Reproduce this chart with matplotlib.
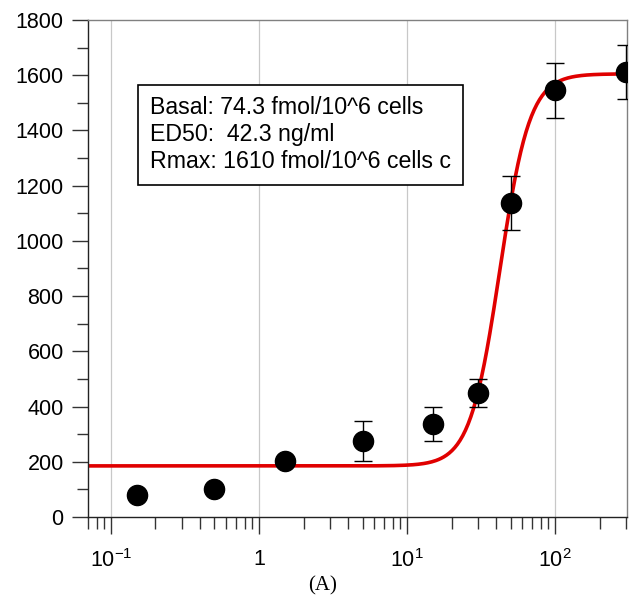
import matplotlib
matplotlib.use("Agg")
import matplotlib.pyplot as plt
import numpy as np
from matplotlib.ticker import FixedLocator, MultipleLocator, LogLocator, NullFormatter

# measured points (dose in ng/ml, response in fmol/10^6 cells)
dose = [0.15, 0.5, 1.5, 5, 15, 30, 50, 100, 300]
resp = [78, 101, 203, 276, 337, 450, 1138, 1545, 1613]
err = [12, 9, 9, 72, 63, 50, 97, 100, 98]

# 4-parameter logistic fit drawn as the red curve
fit_bottom = 185
fit_top = 1605
fit_ed50 = 42.3
fit_slope = 4.3

xticks = [0.1, 1, 10, 100]
xticklabels = ["$10^{-1}$", "1", "$10^{1}$", "$10^{2}$"]

plt.rcParams["font.family"] = ["Liberation Sans", "DejaVu Sans"]
plt.rcParams["mathtext.fontset"] = "custom"
plt.rcParams["mathtext.rm"] = "Liberation Sans"
plt.rcParams["mathtext.it"] = "Liberation Sans"

fig = plt.figure(figsize=(6.32, 6.01), dpi=100)
ax = fig.add_axes([0.1392, 0.1398, 0.8528, 0.8269])

xx = np.logspace(np.log10(0.07), np.log10(300), 400)
yy = fit_bottom + (fit_top - fit_bottom) / (1 + (fit_ed50 / xx) ** fit_slope)
ax.plot(xx, yy, color="#e00000", lw=2.6, zorder=2)

ax.errorbar(dose, resp, yerr=err, fmt="o", color="black", ms=14.5, capsize=6.5,
            elinewidth=1.0, capthick=1.0, zorder=3)

ax.set_xscale("log")
ax.set_xlim(0.07, 305)
ax.set_ylim(0, 1800)

ax.xaxis.set_major_locator(FixedLocator(xticks))
ax.set_xticklabels(xticklabels)
ax.xaxis.set_minor_locator(LogLocator(base=10, subs=np.arange(2, 10)))
ax.xaxis.set_minor_formatter(NullFormatter())
ax.yaxis.set_major_locator(MultipleLocator(200))
ax.yaxis.set_minor_locator(MultipleLocator(100))

ax.tick_params(axis="both", which="major", direction="out", labelsize=15.5,
               width=1.0, color="#333333")
ax.tick_params(axis="y", which="major", length=11.5, pad=6)
ax.tick_params(axis="y", which="minor", length=8, width=1.0, color="#333333")
ax.tick_params(axis="x", which="major", length=12, pad=11)
ax.tick_params(axis="x", which="minor", length=8.5, width=1.0, color="#333333")

ax.grid(axis="x", which="major", color="#c8c8c8", lw=0.9)
ax.set_axisbelow(True)
for side in ["left", "bottom"]:
    ax.spines[side].set_color("#222222")
    ax.spines[side].set_linewidth(1.0)
for side in ["top", "right"]:
    ax.spines[side].set_color("#808080")
    ax.spines[side].set_linewidth(1.0)

ax.text(0.115, 0.769,
        "Basal: 74.3 fmol/10^6 cells\nED50:  42.3 ng/ml\nRmax: 1610 fmol/10^6 cells c",
        transform=ax.transAxes, fontsize=16.7, linespacing=1.22, va="center", ha="left",
        bbox=dict(boxstyle="square,pad=0.5", fc="white", ec="black", lw=1.2))

fig.text(0.51, 0.025, "(A)", family="Liberation Serif", fontsize=15, ha="center",
         va="center")

fig.savefig("out.png", dpi=100)
